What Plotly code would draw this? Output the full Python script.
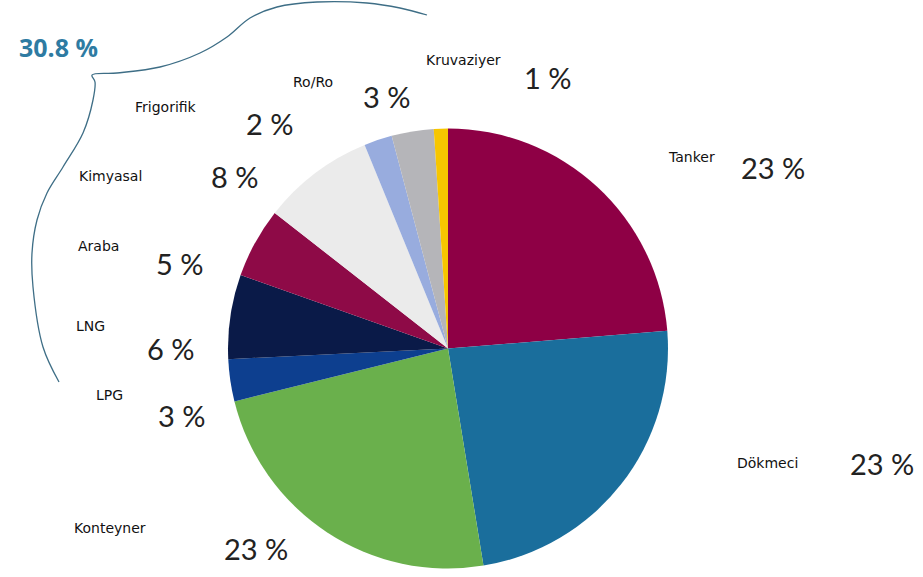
import plotly.graph_objects as go

# Fleet share by ship type (clockwise from 12 o'clock)
ship_types = ["Tanker", "Dökmeci", "Konteyner", "LPG", "LNG", "Araba",
              "Kimyasal", "Frigorifik", "Ro/Ro", "Kruvaziyer"]
shares = [23, 23, 23, 3, 6, 5, 8, 2, 3, 1]
slice_colors = ["#8E0045", "#1A6E9C", "#6AB04C", "#0D3F8F", "#0A1A48",
                "#8E0A47", "#EBEBEB", "#98ACDE", "#B5B5B9", "#F7C600"]

# Label anchor points (pixels): name, then percentage
name_pos = {
    "Tanker": (691, 157), "Dökmeci": (767, 463), "Konteyner": (110, 528),
    "LPG": (109, 395), "LNG": (90, 326), "Araba": (98, 246),
    "Kimyasal": (110, 176), "Frigorifik": (166, 107), "Ro/Ro": (313, 82),
    "Kruvaziyer": (463, 60),
}
pct_pos = {
    "Tanker": (773, 167), "Dökmeci": (882, 463), "Konteyner": (256, 548),
    "LPG": (182, 415), "LNG": (171, 348), "Araba": (180, 263),
    "Kimyasal": (235, 176), "Frigorifik": (270, 123), "Ro/Ro": (387, 96),
    "Kruvaziyer": (548, 77),
}

# Bracket grouping the smaller segments
group_total = "30.8 %"
bracket_x = [427, 400, 367, 317, 277, 250, 227, 200, 160, 117, 92,
             95, 93, 83, 63, 47, 37, 32, 33, 43, 59]
bracket_y = [15, 8, 3, 2, 7, 18, 37, 53, 67, 73, 75,
             82, 100, 133, 167, 193, 220, 253, 287, 347, 382]

W, H = 923, 577
fig = go.Figure()

fig.add_trace(go.Pie(
    labels=ship_types, values=shares, sort=False, direction="clockwise",
    rotation=0, marker=dict(colors=slice_colors, line=dict(width=0)),
    textinfo="none", hoverinfo="label+percent", showlegend=False,
    domain=dict(x=[228 / W, 668 / W], y=[1 - 570 / H, 1 - 127 / H]),
))

fig.add_trace(go.Scatter(
    x=bracket_x, y=bracket_y, mode="lines",
    line=dict(color="#3E6E86", width=1.3, shape="spline", smoothing=1.0),
    hoverinfo="skip", showlegend=False,
))

annotations = []
for name in ship_types:
    nx, ny = name_pos[name]
    annotations.append(dict(x=nx, y=ny, xref="x", yref="y", text=name,
                            showarrow=False,
                            font=dict(family="DejaVu Sans", size=14, color="#111111")))
for name, val in zip(ship_types, shares):
    px, py = pct_pos[name]
    annotations.append(dict(x=px, y=py, xref="x", yref="y", text=f"{val} %",
                            showarrow=False,
                            font=dict(family="Lato", size=29, color="#222222")))
annotations.append(dict(x=58, y=47, xref="x", yref="y", text=f"<b>{group_total}</b>",
                        showarrow=False,
                        font=dict(family="Open Sans", size=25, color="#2E7BA2")))

fig.update_layout(
    width=W, height=H, margin=dict(l=0, r=0, t=0, b=0),
    paper_bgcolor="white", plot_bgcolor="white",
    xaxis=dict(range=[0, W], visible=False, fixedrange=True),
    yaxis=dict(range=[H, 0], visible=False, fixedrange=True),
    annotations=annotations,
)

fig.write_html("out.html")
